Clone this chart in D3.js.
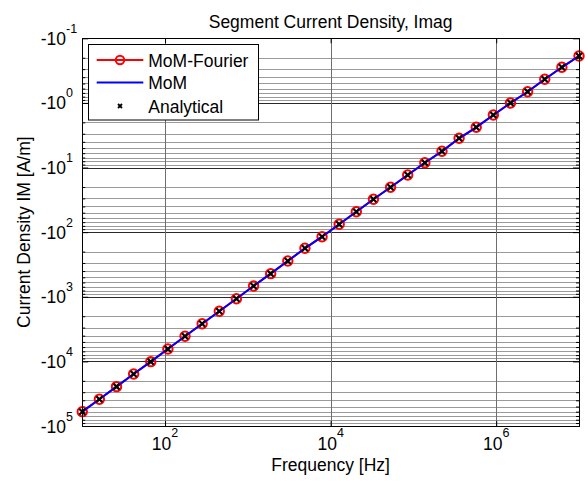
<!DOCTYPE html>
<html>
<head>
<meta charset="utf-8">
<script src="https://cdn.jsdelivr.net/npm/d3@7"></script>
<style>
body { margin: 0; background: #fff; }
text { font-family: Arial, "Liberation Sans", sans-serif; fill: #000; }
</style>
</head>
<body>
<div class="chart"></div>
<script>
// Frequencies of the samples (Hz), 30 log-spaced points from 10 Hz to 10 MHz
var freqHz = [10, 16.10, 25.93, 41.75, 67.23, 108.27, 174.33, 280.72, 452.04, 727.90,
			  1172.1, 1887.4, 3039.2, 4893.9, 7880.5, 12690, 20434, 32903, 52983, 85317,
			  137382, 221222, 356225, 573615, 923671, 1487352, 2395027, 3856620, 6210169, 10000000];

// Imaginary part of the segment current density (A/m).
// All three methods overlap, so they share the same values.
var currentImag = [-6.00e4, -3.86e4, -2.46e4, -1.57e4, -1.01e4, -6430, -4089, -2610, -1677, -1071,
				   -681, -439, -279.5, -177.8, -117.6, -75.6, -48.3, -31.0, -20.2, -13.05,
				   -8.42, -5.61, -3.53, -2.385, -1.538, -1.003, -0.671, -0.431, -0.281, -0.188];

var seriesNames = ["MoM-Fourier", "MoM", "Analytical"];
var xTickValues = [1e2, 1e4, 1e6];
var yTickValues = [1e-1, 1e0, 1e1, 1e2, 1e3, 1e4, 1e5];

var width = 585;
var height = 481;
var plotLeft = 82.25, plotRight = 579, plotTop = 38.3, plotBottom = 426;
var fontSize = 17.5;
var supSize = 12.5;

var svg = d3.select(".chart").append("svg")
	.attr("width", width)
	.attr("height", height);

var x = d3.scaleLog().domain([10, 1e7]).range([plotLeft, plotRight]);
// values are negative: plot magnitude, -10^-1 on top and -10^5 at the bottom
var y = d3.scaleLog().domain([1e-1, 1e5]).range([plotTop, plotBottom]);

var isMajor = function(d) { return Math.abs(Math.log10(d) - Math.round(Math.log10(d))) < 1e-9; };
var yMinor = y.ticks().filter(function(d) { return !isMajor(d); });

var points = freqHz.map(function(f, i) { return { f: f, v: currentImag[i] }; });

// Grid lines
var grid = svg.append("g");
grid.selectAll(".minor")
	.data(yMinor)
	.enter().append("line")
	.attr("x1", plotLeft).attr("x2", plotRight)
	.attr("y1", function(d) { return Math.round(y(d)) + 0.5; })
	.attr("y2", function(d) { return Math.round(y(d)) + 0.5; })
	.attr("stroke", "#9a9a9a")
	.attr("stroke-width", 1);

grid.selectAll(".major")
	.data(yTickValues)
	.enter().append("line")
	.attr("x1", plotLeft).attr("x2", plotRight)
	.attr("y1", function(d) { return Math.round(y(d)) + 0.5; })
	.attr("y2", function(d) { return Math.round(y(d)) + 0.5; })
	.attr("stroke", "#2a2a2a")
	.attr("stroke-width", 1);

grid.selectAll(".vert")
	.data(xTickValues)
	.enter().append("line")
	.attr("x1", function(d) { return Math.round(x(d)) + 0.5; })
	.attr("x2", function(d) { return Math.round(x(d)) + 0.5; })
	.attr("y1", plotTop).attr("y2", plotBottom)
	.attr("stroke", "#6e6e6e")
	.attr("stroke-width", 1);

// Tick marks (inside the box, MATLAB style)
function tickAxis(axis, tx, ty) {
	var g = svg.append("g")
		.attr("transform", "translate(" + tx + "," + ty + ")")
		.call(axis);
	g.select(".domain").remove();
	g.selectAll("line").attr("stroke", "#000");
	return g;
}
tickAxis(d3.axisLeft(y).tickValues(yTickValues).tickSize(-6).tickFormat(""), plotLeft, 0);
tickAxis(d3.axisLeft(y).tickValues(yMinor).tickSize(-3).tickFormat(""), plotLeft, 0);
tickAxis(d3.axisRight(y).tickValues(yTickValues).tickSize(-6).tickFormat(""), plotRight, 0);
tickAxis(d3.axisRight(y).tickValues(yMinor).tickSize(-3).tickFormat(""), plotRight, 0);
tickAxis(d3.axisBottom(x).tickValues(xTickValues).tickSize(-5).tickFormat(""), 0, plotBottom);
tickAxis(d3.axisTop(x).tickValues(xTickValues).tickSize(-5).tickFormat(""), 0, plotTop);

// Series
var line = d3.line()
	.x(function(d) { return x(d.f); })
	.y(function(d) { return y(-d.v); });

// MoM-Fourier: red line with circles
svg.append("path")
	.datum(points)
	.attr("d", line)
	.attr("fill", "none")
	.attr("stroke", "#ff0000")
	.attr("stroke-width", 2);

svg.append("g").selectAll("circle")
	.data(points)
	.enter().append("circle")
	.attr("cx", function(d) { return x(d.f); })
	.attr("cy", function(d) { return y(-d.v); })
	.attr("r", 4.7)
	.attr("fill", "none")
	.attr("stroke", "#ff0000")
	.attr("stroke-width", 2);

// MoM: blue line
svg.append("path")
	.datum(points)
	.attr("d", line)
	.attr("fill", "none")
	.attr("stroke", "#0000ff")
	.attr("stroke-width", 2);

// Analytical: black x markers
var xMark = function(s) { return "M" + (-s) + "," + (-s) + "L" + s + "," + s + "M" + (-s) + "," + s + "L" + s + "," + (-s); };
svg.append("g").selectAll("path")
	.data(points)
	.enter().append("path")
	.attr("transform", function(d) { return "translate(" + x(d.f) + "," + y(-d.v) + ")"; })
	.attr("d", xMark(3))
	.attr("stroke", "#000")
	.attr("stroke-width", 2.2);

// Axes box
svg.append("rect")
	.attr("x", Math.round(plotLeft) + 0.5)
	.attr("y", Math.round(plotTop) + 0.5)
	.attr("width", Math.round(plotRight) - Math.round(plotLeft))
	.attr("height", Math.round(plotBottom) - Math.round(plotTop))
	.attr("fill", "none")
	.attr("stroke", "#000")
	.attr("stroke-width", 1);

// Y tick labels: -10^n
svg.append("g").selectAll("text")
	.data(yTickValues)
	.enter().append("text")
	.attr("x", 40.7)
	.attr("y", function(d) { return y(d) + 6.5; })
	.attr("font-size", fontSize)
	.each(function(d) {
		var t = d3.select(this);
		t.append("tspan").text("-10");
		t.append("tspan")
			.attr("dy", -12)
			.attr("font-size", supSize)
			.text(Math.round(Math.log10(d)));
	});

// X tick labels: 10^n
svg.append("g").selectAll("text")
	.data(xTickValues)
	.enter().append("text")
	.attr("x", function(d) { return x(d); })
	.attr("y", 450)
	.attr("text-anchor", "middle")
	.attr("font-size", fontSize)
	.each(function(d) {
		var t = d3.select(this);
		t.append("tspan").text("10");
		t.append("tspan")
			.attr("dy", -13)
			.attr("font-size", supSize)
			.text(Math.round(Math.log10(d)));
	});

// Title and axis labels
var midX = (plotLeft + plotRight) / 2;
svg.append("text")
	.attr("x", midX).attr("y", 28.3)
	.attr("text-anchor", "middle")
	.attr("font-size", fontSize)
	.text("Segment Current Density, Imag");

svg.append("text")
	.attr("x", midX).attr("y", 470.5)
	.attr("text-anchor", "middle")
	.attr("font-size", fontSize)
	.text("Frequency [Hz]");

svg.append("text")
	.attr("transform", "translate(29.5," + ((plotTop + plotBottom) / 2) + ") rotate(-90)")
	.attr("text-anchor", "middle")
	.attr("font-size", fontSize)
	.text("Current Density IM [A/m]");

// Legend
var legend = svg.append("g");
legend.append("rect")
	.attr("x", 88.5).attr("y", 44.5)
	.attr("width", 170).attr("height", 75.5)
	.attr("fill", "#fff")
	.attr("stroke", "#000")
	.attr("stroke-width", 1);

var rowY = [60, 82.5, 106];
var sampleX1 = 96.7, sampleX2 = 143.3;

legend.append("line")
	.attr("x1", sampleX1).attr("x2", sampleX2)
	.attr("y1", rowY[0]).attr("y2", rowY[0])
	.attr("stroke", "#ff0000").attr("stroke-width", 2);
legend.append("circle")
	.attr("cx", (sampleX1 + sampleX2) / 2).attr("cy", rowY[0])
	.attr("r", 4.2)
	.attr("fill", "none")
	.attr("stroke", "#ff0000").attr("stroke-width", 2);

legend.append("line")
	.attr("x1", sampleX1).attr("x2", sampleX2)
	.attr("y1", rowY[1]).attr("y2", rowY[1])
	.attr("stroke", "#0000ff").attr("stroke-width", 2);

legend.append("path")
	.attr("transform", "translate(" + ((sampleX1 + sampleX2) / 2) + "," + rowY[2] + ")")
	.attr("d", xMark(2))
	.attr("stroke", "#000").attr("stroke-width", 1.8);

legend.selectAll(".label")
	.data(seriesNames)
	.enter().append("text")
	.attr("x", 148.3)
	.attr("y", function(d, i) { return rowY[i] + 6.8; })
	.attr("font-size", fontSize)
	.text(function(d) { return d; });
</script>
</body>
</html>
